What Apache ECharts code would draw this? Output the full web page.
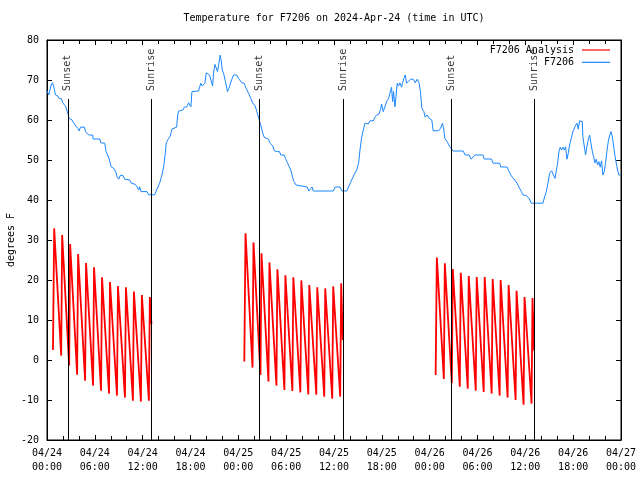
<!DOCTYPE html>
<html><head><meta charset="utf-8">
<script src="https://cdn.jsdelivr.net/npm/echarts@6/dist/echarts.min.js"></script>
<style>html,body{margin:0;padding:0;background:#fff}#c{width:640px;height:480px}</style>
</head><body><div id="c"></div>
<script>
// ---- data (hours since 04/24 00:00 UTC, degrees F) ----
const tickLabels = ['04/24\n00:00','04/24\n06:00','04/24\n12:00','04/24\n18:00','04/25\n00:00','04/25\n06:00','04/25\n12:00','04/25\n18:00','04/26\n00:00','04/26\n06:00','04/26\n12:00','04/26\n18:00','04/27\n00:00'];

const blueT = [0.00,0.23,0.35,0.52,0.69,0.86,0.98,1.06,1.36,1.52,1.69,1.82,1.98,2.19,2.36,2.61,2.78,3.15,3.36,3.61,3.86,4.03,4.19,4.70,4.82,5.24,5.74,5.78,6.62,6.74,7.24,7.41,7.66,7.83,8.04,8.37,8.62,8.79,9.00,9.20,9.54,9.75,10.37,10.58,11.08,11.29,11.50,11.63,11.79,12.54,12.75,13.50,13.79,14.13,14.42,14.63,14.84,14.96,15.26,15.46,15.67,15.88,16.26,16.38,16.51,17.05,17.22,17.55,17.76,18.05,18.18,18.39,19.01,19.14,19.30,19.47,19.64,19.81,19.97,20.14,20.39,20.56,20.77,20.89,21.06,21.22,21.39,21.56,21.73,21.85,21.98,22.14,22.39,22.64,22.81,23.06,23.19,23.40,23.81,24.02,
24.15,24.44,24.73,24.98,25.28,25.57,25.82,26.11,26.32,26.57,26.74,26.95,27.07,27.24,27.49,27.78,27.99,28.32,28.53,28.82,29.16,29.32,29.74,29.91,30.16,30.41,30.58,30.79,30.99,31.24,31.41,32.66,32.83,33.08,33.25,33.40,35.92,36.13,36.75,37.00,37.59,37.92,38.21,38.51,38.84,39.09,39.26,39.47,39.68,39.88,40.09,40.30,40.51,40.72,40.93,41.14,41.35,41.64,41.85,41.97,42.18,42.39,42.60,42.85,43.02,43.22,43.35,43.47,43.64,43.77,43.93,44.10,44.27,44.48,44.60,44.77,44.94,45.10,45.35,45.60,45.94,46.19,46.44,46.69,46.86,47.02,47.27,47.44,47.69,47.94,
48.27,48.44,49.11,49.36,49.61,49.78,49.90,50.19,50.53,50.94,52.20,52.45,52.95,53.20,53.45,53.66,54.70,54.83,55.74,55.95,56.79,56.91,57.71,57.96,58.25,58.67,58.96,59.21,59.50,59.71,60.13,60.46,60.75,62.21,62.42,62.63,62.84,63.05,63.30,63.55,63.72,63.88,64.05,64.22,64.38,64.55,64.72,64.89,65.05,65.22,65.39,65.55,65.76,65.97,66.22,66.47,66.64,66.80,67.01,67.14,67.22,67.39,67.56,67.72,67.89,68.06,68.23,68.39,68.56,68.73,68.89,69.06,69.23,69.39,69.56,69.73,69.90,70.06,70.23,70.40,70.56,70.73,70.90,71.07,71.23,71.40,71.57,71.73,71.90,72.00];
const blueV = [67.25,66.25,66.7,68.75,69.3,68.3,67.1,66.25,66.0,65.4,65.0,65.3,64.3,64.6,63.3,61.7,60.4,60.0,59.2,58.5,57.9,57.25,58.2,58.2,57.1,56.25,56.25,55.25,55.25,54.3,54.2,52.1,51.0,50.0,48.3,47.9,47.1,45.8,45.2,46.2,46.1,45.2,45.0,44.2,43.9,43.3,42.5,43.3,42.1,42.1,41.3,41.3,42.7,44.2,46.25,48.3,51.7,54.3,55.4,56.0,57.75,58.2,58.2,61.0,62.25,62.5,63.2,63.3,64.3,63.3,67.1,67.25,67.25,68.2,69.2,68.5,68.2,69.2,71.8,71.5,71.25,70.8,68.5,71.7,73.9,74.3,72.1,74.2,76.2,74.8,72.5,71.7,69.6,67.1,67.9,68.2,70.2,71.25,71.25,70.4,
70.2,69.3,69.2,67.9,66.7,65.4,64.2,63.5,62.1,60.4,59.2,58.8,56.7,55.7,55.2,55.2,54.2,53.5,52.3,52.1,52.1,51.25,51.25,50.4,49.3,49.0,47.5,45.8,44.6,43.75,43.25,43.25,42.25,42.25,43.25,42.25,42.25,43.25,43.25,42.25,42.25,43.7,45.0,46.25,47.5,49.2,52.5,55.7,57.5,59.2,59.6,59.0,59.8,60.2,59.8,60.7,61.25,61.5,62.7,64.0,62.1,63.3,64.6,65.4,66.7,68.2,64.6,67.1,63.3,65.8,69.2,68.5,69.3,68.2,69.2,70.4,71.25,69.2,69.6,70.2,70.2,69.3,70.2,69.2,66.7,62.9,62.1,60.7,61.25,60.4,
60.0,57.3,57.3,57.9,59.2,57.5,55.4,54.6,53.3,52.25,52.25,51.25,51.25,50.2,50.2,51.25,51.25,50.25,50.25,49.2,49.2,48.25,48.25,47.1,46.0,45.0,44.2,43.2,42.1,41.25,41.1,40.4,39.2,39.2,40.8,42.1,44.2,46.7,47.3,47.1,45.4,45.2,49.2,52.1,53.2,52.5,53.2,52.5,53.3,50.2,51.7,53.75,55.4,57.1,58.3,59.2,57.7,59.8,60.2,59.6,55.8,53.5,51.25,53.3,55.0,56.25,54.2,52.3,50.8,49.3,50.2,48.75,49.6,48.2,49.8,46.25,47.1,49.2,52.1,54.6,56.0,57.1,56.0,53.5,51.25,49.3,47.5,46.25,46.25,46.25];

// Analysis: hourly sawtooth, one peak and one trough per hour, three nightly blocks
const redBlockStart = [0, 24, 48];
const redFirstVal = [2.5, -0.4, -3.75];
const redLastVal = [9, 5, 2.3];
const redPeaks1 = [32.9,31.25,29,26.5,24.25,23.2,20.7,19.5,18.5,18.2,17.1,16.25,15.75];
const redTroughs1 = [1.1,-1.4,-3.7,-5.2,-6.4,-7.7,-8.4,-8.9,-9.4,-10.2,-10.4,-10.2];
const redPeaks2 = [31.7,29.4,26.7,24.4,22.7,21.2,20.7,19.9,18.75,18.2,17.9,18.4,19.2];
const redTroughs2 = [-1.9,-3.75,-5.4,-6.4,-7.5,-7.75,-8.1,-8.6,-8.7,-9.2,-9.7,-9.2];
const redPeaks3 = [25.6,24.2,22.75,21.8,21,20.75,20.75,20.25,20,18.75,17.3,15.75,15.5];
const redTroughs3 = [-4.75,-5.8,-6.7,-7.2,-7.7,-8,-8.4,-8.9,-9.4,-10,-11.2,-10.9];
const redPeakOffset = 0.9, redTroughOffset = 1.78, redFirstOffset = 0.75, redLastOffset = 0.2;

const sunNames = ['Sunset','Sunrise','Sunset','Sunrise','Sunset','Sunrise'];
const sunTimes = [2.62, 13.12, 26.65, 37.15, 50.68, 61.13];
const sunLineTop = 65.25, sunLabelBase = 66.9;

// ---- build ----
function buildRed(b, peaks, troughs) {
  const s = redBlockStart[b];
  const pts = [[s + redFirstOffset, redFirstVal[b]]];
  for (let k = 0; k < peaks.length; k++) {
    pts.push([s + k + redPeakOffset, peaks[k]]);
    if (k < troughs.length) pts.push([s + k + redTroughOffset, troughs[k]]);
  }
  pts.push([s + peaks.length - 1 + redPeakOffset + redLastOffset, redLastVal[b]]);
  return pts;
}
const redBlocks = [buildRed(0, redPeaks1, redTroughs1), buildRed(1, redPeaks2, redTroughs2), buildRed(2, redPeaks3, redTroughs3)];
const blueData = blueT.map((t, i) => [t, blueV[i]]);

const FONT = 'DejaVu Sans Mono';
const RED = '#ff0000', BLUE = '#1a86ff';

const redSeries = redBlocks.map(d => ({
  name: 'F7206 Analysis', type: 'line', data: d, symbol: 'none', showSymbol: false,
  lineStyle: { color: RED, width: 1.8 }, itemStyle: { color: RED }, z: 2, animation: false
}));

const annot = {
  name: 'sun', type: 'scatter', symbolSize: 0, z: 3, silent: true, animation: false,
  data: sunTimes.map((t, i) => ({ value: [t, sunLabelBase], name: sunNames[i] })),
  label: { show: true, formatter: p => p.name, rotate: 90, position: 'inside', align: 'left', verticalAlign: 'middle',
           offset: [1.5, 0], fontFamily: FONT, fontSize: 10, color: '#000' },
  markLine: {
    silent: true, symbol: ['none', 'none'], animation: false,
    lineStyle: { color: '#000', width: 1, type: 'solid' },
    label: { show: false }, emphasis: { disabled: true },
    data: sunTimes.map(t => [{ coord: [t, -20] }, { coord: [t, sunLineTop] }])
  }
};

const axisCommon = {
  axisLine: { show: true, onZero: false, lineStyle: { color: '#000' } },
  axisTick: { show: true, inside: true, length: 5, lineStyle: { color: '#000' } },
  splitLine: { show: false }
};

const chart = echarts.init(document.getElementById('c'), null, { renderer: 'canvas' });
chart.setOption({
  animation: false,
  backgroundColor: '#fff',
  title: {
    text: 'Temperature for F7206 on 2024-Apr-24 (time in UTC)', left: 334, top: 13, textAlign: 'center', padding: 0,
    textStyle: { fontFamily: FONT, fontSize: 10, fontWeight: 'normal', color: '#000' }
  },
  legend: {
    data: [{ name: 'F7206 Analysis', icon: 'rect', itemStyle: { color: RED } }, { name: 'F7206', icon: 'rect', itemStyle: { color: BLUE } }],
    orient: 'vertical', right: 30, top: 44, align: 'right', padding: 0,
    itemWidth: 28, itemHeight: 1.2, itemGap: 0.3, selectedMode: false,
    textStyle: { fontFamily: FONT, fontSize: 10, color: '#000', lineHeight: 12, padding: [0, 3, 0, 0] }
  },
  grid: { left: 47, right: 19, top: 40, bottom: 40, show: true, borderColor: '#000', borderWidth: 1, outerBoundsMode: 'none', containLabel: false },
  xAxis: [
    Object.assign({ type: 'value', min: 0, max: 72, interval: 6, position: 'bottom',
      minorTick: { show: true, splitNumber: 3, length: 4, lineStyle: { color: '#000' } },
      axisLabel: { formatter: v => tickLabels[Math.round(v / 6)], fontFamily: FONT, fontSize: 10, color: '#000', lineHeight: 14, margin: 6 } }, axisCommon),
    Object.assign({ type: 'value', min: 0, max: 72, interval: 6, position: 'top',
      minorTick: { show: true, splitNumber: 3, length: 4, lineStyle: { color: '#000' } },
      axisLabel: { show: false } }, axisCommon)
  ],
  yAxis: [
    Object.assign({ type: 'value', min: -20, max: 80, interval: 10, position: 'left',
      name: 'degrees F', nameLocation: 'middle', nameGap: 31, nameRotate: 90, nameMoveOverlap: false,
      nameTextStyle: { fontFamily: FONT, fontSize: 10, color: '#000' },
      axisLabel: { fontFamily: FONT, fontSize: 10, color: '#000', margin: 8 } }, axisCommon),
    Object.assign({ type: 'value', min: -20, max: 80, interval: 10, position: 'right',
      axisLabel: { show: false } }, axisCommon)
  ],
  series: [
    annot,
    ...redSeries,
    { name: 'F7206', type: 'line', data: blueData, symbol: 'none', showSymbol: false,
      lineStyle: { color: BLUE, width: 1 }, itemStyle: { color: BLUE }, z: 4, animation: false }
  ]
});
</script>
</body></html>
